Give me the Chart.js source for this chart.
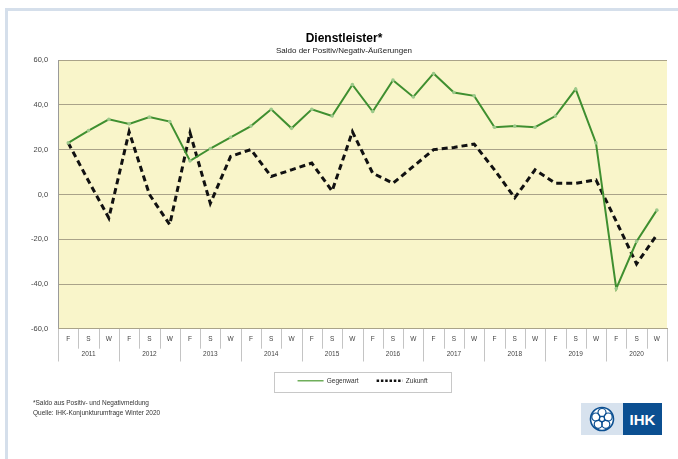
<!DOCTYPE html>
<html>
<head>
<meta charset="utf-8">
<script src="https://cdn.jsdelivr.net/npm/chart.js@4.4.1/dist/chart.umd.min.js"></script>
<style>
  html, body { margin: 0; padding: 0; background: #fff; }
  #wrap { position: relative; width: 678px; height: 459px; overflow: hidden; }
  #frameTop { position: absolute; left: 5px; top: 8px; width: 673px; height: 3px; background: #d5dfeb; }
  #frameLeft { position: absolute; left: 5px; top: 8px; width: 3px; height: 451px; background: #d5dfeb; }
  #c { position: absolute; left: 0; top: 0; }
  #note { position: absolute; left: 33px; top: 398px; font: 6.5px "Liberation Sans", Arial, sans-serif; color: #333; line-height: 10px; }
  #logo { position: absolute; left: 581px; top: 403px; width: 81px; height: 32px; display: flex; }
  #logo .l { width: 42px; height: 32px; background: #d7e2ee; display: flex; align-items: center; justify-content: center; }
  #logo .r { width: 39px; height: 32px; background: #0b4f91; color: #fff; font: bold 15px "Liberation Sans", Arial, sans-serif; display: flex; align-items: center; justify-content: center; }
</style>
</head>
<body>
<div id="wrap">
  <div id="frameTop"></div>
  <div id="frameLeft"></div>
  <canvas id="c" width="678" height="459"></canvas>
  <div id="note">*Saldo aus Positiv- und Negativmeldung<br>Quelle: IHK-Konjunkturumfrage Winter 2020</div>
  <div id="logo">
    <div class="l">
      <svg width="26" height="26" viewBox="0 0 26 26">
        <circle cx="13" cy="13" r="11.5" fill="#fff" stroke="#0b4f91" stroke-width="1.6"/>
        <circle cx="13" cy="6.5" r="4" fill="none" stroke="#0b4f91" stroke-width="1.2"/>
        <circle cx="19.2" cy="11" r="4" fill="none" stroke="#0b4f91" stroke-width="1.2"/>
        <circle cx="16.8" cy="18.3" r="4" fill="none" stroke="#0b4f91" stroke-width="1.2"/>
        <circle cx="9.2" cy="18.3" r="4" fill="none" stroke="#0b4f91" stroke-width="1.2"/>
        <circle cx="6.8" cy="11" r="4" fill="none" stroke="#0b4f91" stroke-width="1.2"/>
        <circle cx="13" cy="13" r="2.6" fill="#fff" stroke="#0b4f91" stroke-width="1.2"/>
      </svg>
    </div>
    <div class="r">IHK</div>
  </div>
</div>
<script>
var seasons = ['F', 'S', 'W', 'F', 'S', 'W', 'F', 'S', 'W', 'F', 'S', 'W', 'F', 'S', 'W',
               'F', 'S', 'W', 'F', 'S', 'W', 'F', 'S', 'W', 'F', 'S', 'W', 'F', 'S', 'W'];
var years = ['2011', '2012', '2013', '2014', '2015', '2016', '2017', '2018', '2019', '2020'];

// Geschaeftslage (gegenwaertig)
var gegenwart = [23, 28.5, 33.5, 31.5, 34.5, 32.5, 15, 20.5, 25.5, 30.5, 38, 29.5,
                 38, 35, 49, 37, 51, 43.5, 54, 45.5, 44, 30, 30.5, 30,
                 35, 47, 23, -42, -21, -7];
// Erwartungen (Zukunft)
var zukunft = [23, 6, -10.5, 28, 0, -13.5, 27.5, -4, 17, 20, 8, 11,
               14, 1.5, 28, 9.5, 5, 12.5, 20, 21, 22.5, 11, -1.5, 11,
               5, 5, 6.5, -12, -31, -18];

var FONT = '"Liberation Sans", Arial, sans-serif';

// plot background, category/year dividers, legend frame
var decor = {
    id: 'decor',
    beforeDraw: function (chart) {
        var a = chart.chartArea, ctx = chart.ctx;
        ctx.save();
        ctx.fillStyle = '#f9f5ca';
        ctx.fillRect(a.left, a.top, a.right - a.left, a.bottom - a.top);
        ctx.restore();
    },
    afterDraw: function (chart) {
        var ctx = chart.ctx;
        var xs = chart.scales.x, x2 = chart.scales.x2;
        var step = xs.getPixelForTick(1) - xs.getPixelForTick(0);
        ctx.save();
        ctx.strokeStyle = '#c4c4c4';
        ctx.lineWidth = 1;
        for (var i = 0; i <= seasons.length; i++) {
            var px = Math.round(xs.getPixelForTick(0) - step / 2 + i * step) + 0.5;
            var bottom = (i % 3 === 0) ? x2.bottom + 2 : xs.bottom;
            ctx.beginPath();
            ctx.moveTo(px, xs.top);
            ctx.lineTo(px, bottom);
            ctx.stroke();
        }
        ctx.restore();

        var lg = chart.legend;
        if (!lg || !lg.legendHitBoxes.length) return;
        var boxes = lg.legendHitBoxes;
        var last = boxes[boxes.length - 1];
        var x0 = boxes[0].left - 24, x1 = last.left + last.width + 23;
        var y0 = boxes[0].top - 6, y1 = boxes[0].top + boxes[0].height + 7;
        ctx.save();
        ctx.strokeStyle = '#c8c8c8';
        ctx.lineWidth = 1;
        ctx.strokeRect(Math.round(x0) + 0.5, Math.round(y0) + 0.5, Math.round(x1 - x0), Math.round(y1 - y0));
        ctx.restore();
    }
};

new Chart(document.getElementById('c'), {
    type: 'line',
    data: {
        labels: seasons,
        datasets: [{
            label: 'Gegenwart',
            data: gegenwart,
            borderColor: '#3f8f30',
            backgroundColor: '#3f8f30',
            borderWidth: 2,
            pointRadius: 1.8,
            pointBackgroundColor: '#9cc98a',
            pointBorderWidth: 0,
            tension: 0
        }, {
            label: 'Zukunft',
            data: zukunft,
            borderColor: '#111',
            backgroundColor: '#111',
            borderWidth: 3,
            borderDash: [6, 4],
            pointRadius: 0,
            tension: 0
        }]
    },
    options: {
        responsive: false,
        animation: false,
        layout: { padding: { left: 21, right: 11, top: 31, bottom: 65 } },
        plugins: {
            title: {
                display: true,
                text: 'Dienstleister*',
                color: '#000',
                font: { family: FONT, size: 12, weight: 'bold' },
                padding: { top: 0, bottom: 0 }
            },
            subtitle: {
                display: true,
                text: 'Saldo der Positiv/Negativ-Äußerungen',
                color: '#222',
                font: { family: FONT, size: 8 },
                padding: { top: 1, bottom: 4 }
            },
            legend: {
                position: 'bottom',
                fullSize: false,
                labels: {
                    color: '#333',
                    font: { family: FONT, size: 6.5 },
                    usePointStyle: true,
                    pointStyle: 'line',
                    pointStyleWidth: 26,
                    boxWidth: 26,
                    boxHeight: 6,
                    padding: 18,
                    generateLabels: function (chart) {
                        var items = Chart.defaults.plugins.legend.labels.generateLabels(chart);
                        items[0].strokeStyle = '#6fae5a';
                        items[0].lineWidth = 1.5;
                        items[0].lineDash = [];
                        items[1].strokeStyle = '#111';
                        items[1].lineWidth = 2.5;
                        items[1].lineDash = [2.5, 1.8];
                        return items;
                    }
                }
            },
            tooltip: { enabled: false }
        },
        scales: {
            y: {
                min: -60,
                max: 60,
                ticks: {
                    stepSize: 20,
                    color: '#444',
                    font: { family: FONT, size: 7.5 },
                    padding: 10,
                    callback: function (v) { return v.toFixed(1).replace('.', ','); }
                },
                grid: { color: '#aaa389', drawTicks: false },
                border: { color: '#9a9a9a' }
            },
            x: {
                offset: true,
                ticks: {
                    color: '#444',
                    font: { family: FONT, size: 6.5 },
                    padding: 6,
                    maxRotation: 0,
                    autoSkip: false
                },
                grid: { drawOnChartArea: false, drawTicks: false },
                border: { color: '#aaa389' }
            },
            x2: {
                type: 'category',
                labels: years,
                position: 'bottom',
                offset: true,
                ticks: {
                    color: '#444',
                    font: { family: FONT, size: 6.5 },
                    padding: 1.5,
                    maxRotation: 0,
                    autoSkip: false
                },
                grid: { drawOnChartArea: false, drawTicks: false },
                border: { display: false }
            }
        }
    },
    plugins: [decor]
});
</script>
</body>
</html>
